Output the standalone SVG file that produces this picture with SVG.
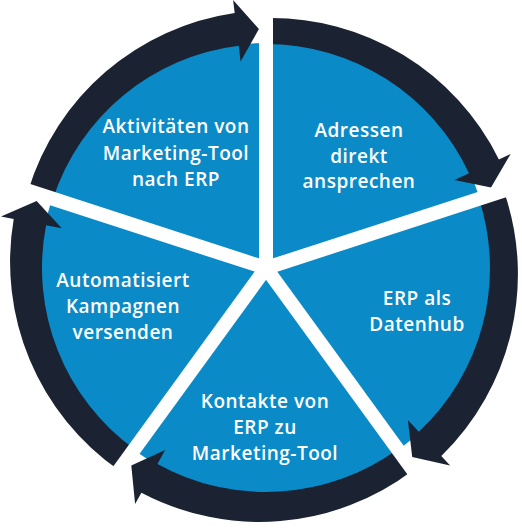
<svg xmlns="http://www.w3.org/2000/svg" width="522" height="528" viewBox="0 0 522 528">
  <style>
    .sector { fill: #0b8ac8; }
    .arrow { fill: #1b2231; }
    .gap { stroke: #ffffff; stroke-width: 14; stroke-linecap: butt; fill: none; }
    .label { fill: #ffffff; font-family: "Open Sans", "Liberation Sans", sans-serif; font-weight: 600; font-size: 19px; letter-spacing: 0.5px; text-anchor: middle; }
  </style>
  <rect width="522" height="528" fill="#ffffff"/>

  <g id="node-adressen">
    <path class="sector" d="M266 268 L266 43 A225 225 0 0 1 480 198.5 Z"/>
    <text class="label" x="359" y="137">Adressen</text>
    <text class="label" x="359" y="163">direkt</text>
    <text class="label" x="359" y="188">ansprechen</text>
  </g>
  <g id="node-datenhub">
    <path class="sector" d="M266 268 L480 198.5 A225 225 0 0 1 398.25 450.03 Z"/>
    <text class="label" x="417" y="305">ERP als</text>
    <text class="label" x="417" y="331">Datenhub</text>
  </g>
  <g id="node-kontakte">
    <path class="sector" d="M266 268 L398.25 450.03 A225 225 0 0 1 133.75 450.03 Z"/>
    <text class="label" x="265" y="408">Kontakte von</text>
    <text class="label" x="265" y="434">ERP zu</text>
    <text class="label" x="265" y="460">Marketing-Tool</text>
  </g>
  <g id="node-kampagnen">
    <path class="sector" d="M266 268 L133.75 450.03 A225 225 0 0 1 52 198.5 Z"/>
    <text class="label" x="123" y="287">Automatisiert</text>
    <text class="label" x="123" y="313">Kampagnen</text>
    <text class="label" x="123" y="339">versenden</text>
  </g>
  <g id="node-aktivitaeten">
    <path class="sector" d="M266 268 L52 198.5 A225 225 0 0 1 266 43 Z"/>
    <text class="label" x="176" y="133">Aktivitäten von</text>
    <text class="label" x="176" y="160">Marketing-Tool</text>
    <text class="label" x="176" y="186">nach ERP</text>
  </g>

  <g id="connectors">
    <path class="arrow" d="M266 18 A254 254 0 0 1 498.9 159.4 L510.7 153.9 L491 187.4 L454.5 180.1 L469 173.3 A224 224 0 0 0 266 44 Z"/>
    <path class="arrow" d="M503.8 190.7 A254 254 0 0 1 441.3 456 L450.1 465.5 L412.2 457.1 L407.9 420.1 L418.8 431.8 A224 224 0 0 0 479 198.8 Z"/>
    <path class="arrow" d="M413 470.3 A254 254 0 0 1 141.4 492.8 L135.1 504.1 L131.3 465.4 L165.2 449.9 L157.4 463.9 A224 224 0 0 0 397.7 449.2 Z"/>
    <path class="arrow" d="M119 470.3 A254 254 0 0 1 13.7 219 L1 216.5 L36.6 200.9 L61.8 228.3 L46.1 225.3 A224 224 0 0 0 134.3 449.2 Z"/>
    <path class="arrow" d="M28.2 190.7 A254 254 0 0 1 234.7 12.9 L233.1 0 L258.9 29.1 L240.6 61.5 L238.7 45.7 A224 224 0 0 0 53 198.8 Z"/>
  </g>

  <g id="separators">
    <line class="gap" x1="266" y1="268" x2="266" y2="-12"/>
    <line class="gap" x1="266" y1="268" x2="532.3" y2="181.5"/>
    <line class="gap" x1="266" y1="268" x2="430.6" y2="494.5"/>
    <line class="gap" x1="266" y1="268" x2="101.4" y2="494.5"/>
    <line class="gap" x1="266" y1="268" x2="-0.3" y2="181.5"/>
  </g>
</svg>
